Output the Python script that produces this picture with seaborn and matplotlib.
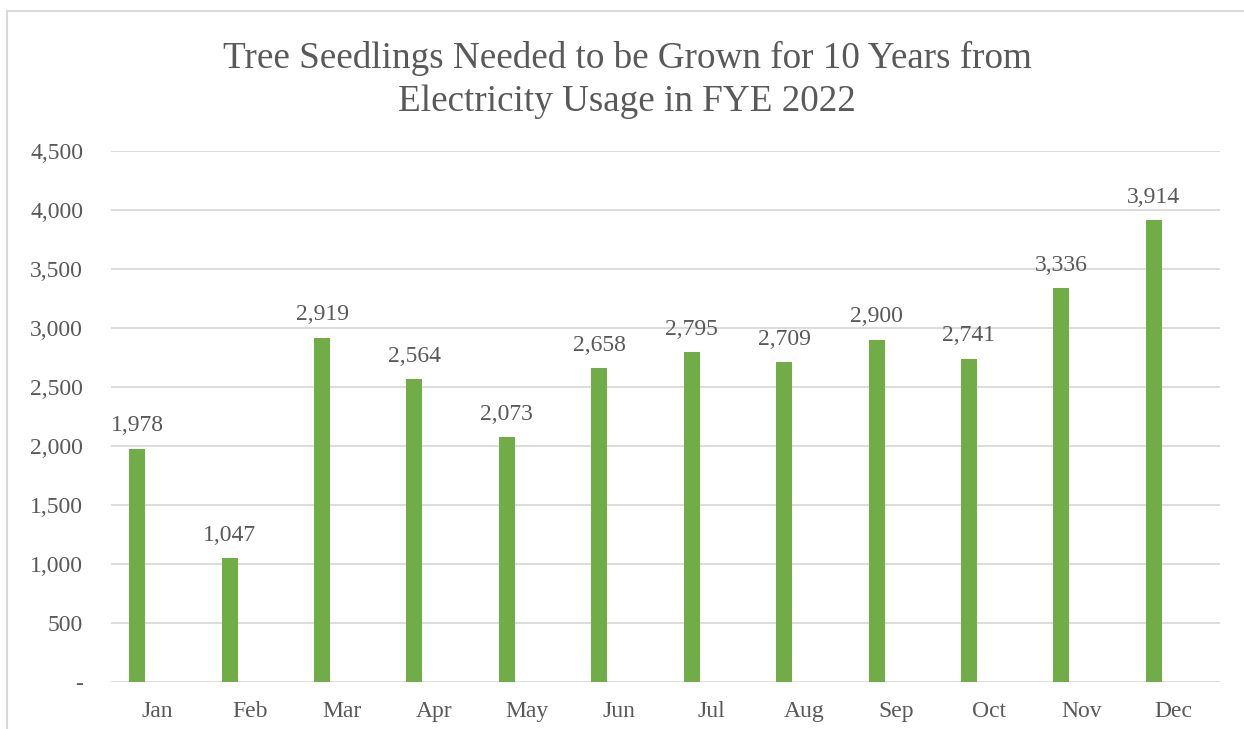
import matplotlib
matplotlib.use("Agg")
import matplotlib.pyplot as plt
import matplotlib.patches as mpatches
import seaborn as sns
import pandas as pd
from matplotlib.ticker import FuncFormatter

months = ["Jan", "Feb", "Mar", "Apr", "May", "Jun", "Jul", "Aug", "Sep", "Oct", "Nov", "Dec"]
seedlings = [1978, 1047, 2919, 2564, 2073, 2658, 2795, 2709, 2900, 2741, 3336, 3914]
y_ticks = [0, 500, 1000, 1500, 2000, 2500, 3000, 3500, 4000, 4500]
title = "Tree Seedlings Needed to be Grown for 10 Years from\nElectricity Usage in FYE 2022"

sns.set_theme(style="white")
plt.rcParams["font.family"] = ["Liberation Serif", "DejaVu Serif"]

text_color = "#595959"
bar_color = "#70AD47"
grid_color = "#D9D9D9"

df = pd.DataFrame({
    "month": months + months,
    "value": seedlings + [0] * len(months),
    "series": ["Seedlings"] * len(months) + ["_blank"] * len(months),
})

fig = plt.figure(figsize=(12.44, 7.29), dpi=100)
ax = fig.add_axes([111 / 1244, 1 - 682 / 729, (1220 - 111) / 1244, (682 - 151) / 729])

sns.barplot(data=df, x="month", y="value", hue="series", hue_order=["Seedlings", "_blank"],
            order=months, palette=[bar_color, bar_color], width=0.866, gap=0.6,
            dodge=True, ax=ax, legend=False, errorbar=None, linewidth=0, saturation=1)

ax.set_ylim(0, 4500)
ax.set_yticks(y_ticks)
ax.yaxis.set_major_formatter(FuncFormatter(lambda v, p: "-" if v == 0 else f"{int(v):,}"))
ax.grid(axis="y", color=grid_color, linewidth=1.3)
ax.set_axisbelow(True)
for s in ax.spines.values():
    s.set_visible(False)
ax.tick_params(axis="both", length=0, labelsize=17, labelcolor=text_color)
ax.tick_params(axis="y", pad=20)
ax.tick_params(axis="x", pad=14)
ax.set_xlabel("")
ax.set_ylabel("")

ax.bar_label(ax.containers[0], labels=[f"{v:,}" for v in seedlings], padding=9,
             fontsize=17, color=text_color)

fig.text(627 / 1244, 1 - 80 / 729, title, ha="center", va="center", fontsize=26.7,
         color=text_color, linespacing=1.3)

border = mpatches.Rectangle((7 / 1244, -0.1), 1.2, 1 - 11 / 729 + 0.1, transform=fig.transFigure,
                            fill=False, edgecolor=grid_color, linewidth=1.5)
fig.patches.append(border)

fig.savefig("out.png", dpi=100)
